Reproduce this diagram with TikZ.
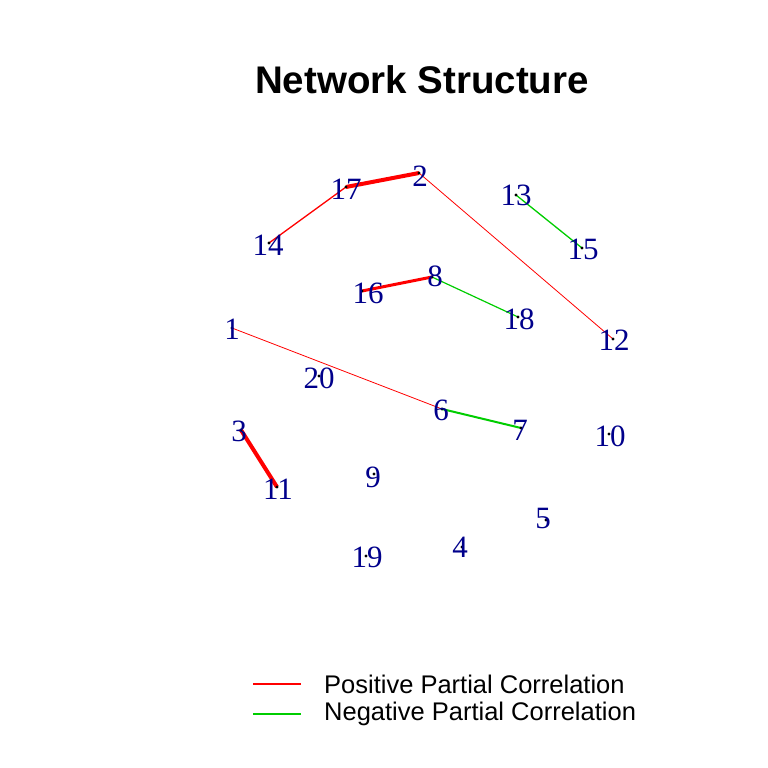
\documentclass[tikz,border=0pt]{standalone}
\usepackage{fontspec}
\setmainfont{Liberation Serif}
\setsansfont{Liberation Sans}
\definecolor{poscol}{RGB}{255,0,0}
\definecolor{negcol}{RGB}{0,205,0}
\definecolor{labcol}{RGB}{0,0,139}
\begin{document}
\begin{tikzpicture}[x=1pt,y=-1pt,
  vlab/.style={text=labcol,font=\fontsize{31}{31}\selectfont,inner sep=0pt},
  posedge/.style={draw=poscol},negedge/.style={draw=negcol},
  legtext/.style={anchor=west,font=\sffamily\fontsize{25.5}{25.5}\selectfont,inner sep=0pt}]
\useasboundingbox (0,0) rectangle (768,768);
\node[font=\sffamily\bfseries\fontsize{38.5}{38.5}\selectfont] (title) at (422,80) {Network Structure};
% vertex positions
\foreach \n/\x/\y in {1/232/328,2/419/173,3/241/430,4/462/547,5/546/520,6/442/409,7/521/428,
  8/432/277,9/374/474,10/609/434,11/277/487,12/613/339,13/516/195,14/269/243,15/582/248,
  16/362/291,17/346/187,18/518/317,19/366/556,20/319/376}
  \coordinate (v\n) at (\x,\y);
% edges
\draw[posedge,line width=4pt] (v17) -- (v2);
\draw[posedge,line width=3pt] (v16) -- (v8);
\draw[posedge,line width=4pt] (v3) -- (v11);
\draw[posedge,line width=1.3pt] (v14) -- (v17);
\draw[posedge,line width=0.8pt] (v2) -- (v12);
\draw[posedge,line width=0.8pt] (v1) -- (v6);
\draw[negedge,line width=1.3pt] (v13) -- (v15);
\draw[negedge,line width=1.2pt] (v8) -- (v18);
\draw[negedge,line width=2pt] (v6) -- (v7);
% vertices and labels
\foreach \n/\dx/\dy in {1/0/1,2/1/3,3/-2/1,4/-2/0,5/-3/-2,6/-1/1,7/-1/2,8/3/-1,9/-1/3,10/1/2,
  11/1/2,12/1/1,13/0/0,14/-1/2,15/1/1,16/6/2,17/0/2,18/1/2,19/1/1,20/0/2}
{
  \fill (v\n) circle (1.6pt);
  \node[vlab] (l\n) at ([shift={(\dx,\dy)}]v\n) {\n};
}
% legend
\coordinate (lp1) at (253,684); \coordinate (lp2) at (301,684);
\coordinate (ln1) at (253,714); \coordinate (ln2) at (301,714);
\draw[posedge,line width=1.3pt] (lp1) -- (lp2);
\draw[negedge,line width=1.3pt] (ln1) -- (ln2);
\node[legtext] (tpos) at (324,684) {Positive Partial Correlation};
\node[legtext] (tneg) at (324,714) {Negative Partial Correlation};
\end{tikzpicture}
\end{document}
